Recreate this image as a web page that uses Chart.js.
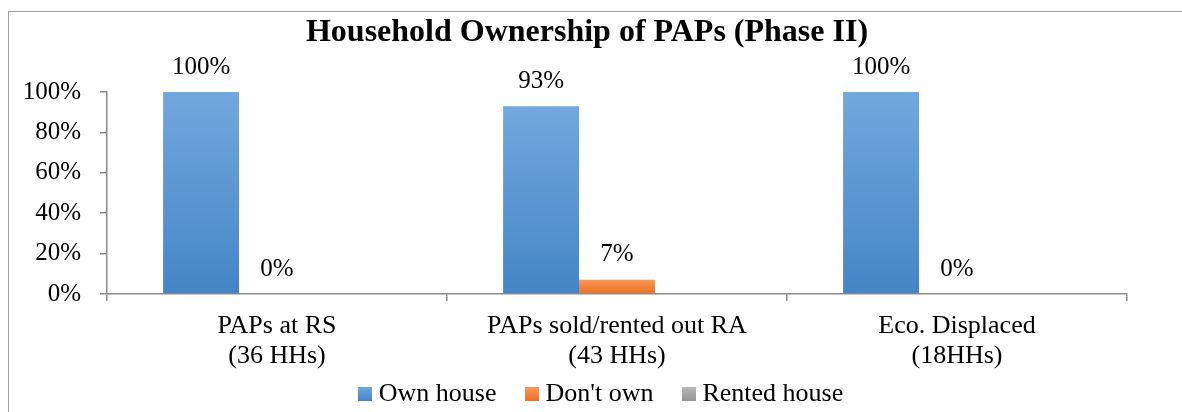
<!DOCTYPE html>
<html>
<head>
<meta charset="utf-8">
<title>Household Ownership of PAPs (Phase II)</title>
<script src="https://cdn.jsdelivr.net/npm/chart.js@4.4.1/dist/chart.umd.min.js"></script>
<style>
    html, body { margin: 0; padding: 0; background: #fff; }
    #wrap { position: relative; width: 1182px; height: 412px; overflow: hidden; }
    #wrap canvas { position: absolute; left: 0; top: 0; }
    #frame {
        position: absolute; left: 8px; top: 11px; right: -10px; bottom: -10px;
        border-left: 1.5px solid #a0a0a0; border-top: 1.5px solid #a0a0a0;
        pointer-events: none;
    }
</style>
</head>
<body>
<div id="wrap">
    <canvas id="ownershipChart" width="1182" height="412"></canvas>
    <div id="frame"></div>
</div>
<script>
const categories = [
    ['PAPs at RS', '(36 HHs)'],
    ['PAPs sold/rented out RA', '(43 HHs)'],
    ['Eco. Displaced', '(18HHs)']
];
const seriesNames = ['Own house', "Don't own", 'Rented house'];
const ownHouse    = [100, 93, 100];
const dontOwn     = [0, 7, 0];
const rentedHouse = [0, 0, 0];
const showValue   = [true, true, false];
const yTicks      = [0, 20, 40, 60, 80, 100];

const SERIF    = "'Liberation Serif', 'Times New Roman', serif";
const axisGray = '#8c8c8c';
const NB = '\u00a0';

// top / bottom shades of each series
const shades = [
    ['#72a8dd', '#4485c6'],
    ['#f6975a', '#ec7020'],
    ['#b8b8b8', '#959595']
];

// Excel style vertical gradient per bar: lighter top, darker bottom
function barGradient(top, bottom) {
    return function (c) {
        const chart = c.chart;
        if (c.type !== 'data' || !chart.chartArea) return bottom;
        const y = chart.scales.y;
        const y0 = y.getPixelForValue(0);
        const y1 = y.getPixelForValue(c.raw);
        if (!isFinite(y0) || !isFinite(y1) || Math.abs(y0 - y1) < 1) return bottom;
        const g = chart.ctx.createLinearGradient(0, y1, 0, y0);
        g.addColorStop(0, top);
        g.addColorStop(1, bottom);
        return g;
    };
}

// small gradient square used as the legend marker
function legendSwatch(top, bottom) {
    const c = document.createElement('canvas');
    c.width = 14;
    c.height = 14;
    const g = c.getContext('2d');
    const grad = g.createLinearGradient(0, 0, 0, 14);
    grad.addColorStop(0, top);
    grad.addColorStop(1, bottom);
    g.fillStyle = grad;
    g.fillRect(0, 0, 14, 14);
    return c;
}
const swatches = shades.map(s => legendSwatch(s[0], s[1]));

const valueLabels = {
    id: 'valueLabels',
    afterDatasetsDraw(chart) {
        const ctx = chart.ctx;
        ctx.save();
        ctx.font = '25px ' + SERIF;
        ctx.fillStyle = '#000';
        ctx.textAlign = 'center';
        ctx.textBaseline = 'middle';
        chart.data.datasets.forEach((ds, i) => {
            if (!showValue[i]) return;
            chart.getDatasetMeta(i).data.forEach((bar, j) => {
                ctx.fillText(ds.data[j] + '%', bar.x, bar.y - 25);
            });
        });
        ctx.restore();
    }
};

new Chart(document.getElementById('ownershipChart'), {
    type: 'bar',
    data: {
        labels: categories,
        datasets: [
            { label: seriesNames[0], data: ownHouse,    backgroundColor: barGradient(shades[0][0], shades[0][1]) },
            { label: seriesNames[1], data: dontOwn,     backgroundColor: barGradient(shades[1][0], shades[1][1]) },
            { label: seriesNames[2], data: rentedHouse, backgroundColor: barGradient(shades[2][0], shades[2][1]) }
        ]
    },
    options: {
        responsive: false,
        animation: false,
        devicePixelRatio: 1,
        layout: { padding: { left: 23, right: 55, top: 0, bottom: -5 } },
        datasets: { bar: { categoryPercentage: 0.67, barPercentage: 1 } },
        plugins: {
            title: {
                display: true,
                text: NB + NB + NB + 'Household Ownership of PAPs (Phase II)',
                color: '#000',
                font: { family: SERIF, size: 32, weight: 'bold', lineHeight: 1.2 },
                padding: { top: 14, bottom: 39.6 }
            },
            legend: {
                position: 'bottom',
                fullSize: false,
                labels: {
                    usePointStyle: true,
                    pointStyleWidth: 1,
                    boxHeight: 14,
                    padding: 9,
                    color: '#000',
                    font: { family: SERIF, size: 26 },
                    generateLabels: chart => chart.data.datasets.map((ds, i) => ({
                        text: ds.label + NB + NB + NB + NB,
                        pointStyle: swatches[i],
                        fillStyle: shades[i][1],
                        strokeStyle: 'transparent',
                        lineWidth: 0,
                        fontColor: '#000',
                        hidden: false,
                        datasetIndex: i
                    }))
                }
            },
            tooltip: { enabled: false }
        },
        scales: {
            x: {
                grid: { drawOnChartArea: false, tickLength: 7, color: axisGray, lineWidth: 1.5, offset: true },
                border: { color: axisGray, width: 1.5 },
                ticks: {
                    color: '#000',
                    padding: 10,
                    maxRotation: 0,
                    font: { family: SERIF, size: 26, lineHeight: 1.17 }
                },
                afterFit: s => { s.height = 78; s.paddingLeft = 0; s.paddingRight = 0; }
            },
            y: {
                min: 0,
                max: 100,
                grid: { drawOnChartArea: false, tickLength: 7, color: axisGray, lineWidth: 1.5 },
                border: { color: axisGray, width: 1.5 },
                ticks: {
                    color: '#000',
                    padding: 19,
                    font: { family: SERIF, size: 25 },
                    callback: v => v + '%'
                },
                afterBuildTicks: s => { s.ticks = yTicks.map(v => ({ value: v })); },
                afterFit: s => { s.width = 84; }
            }
        }
    },
    plugins: [valueLabels]
});
</script>
</body>
</html>
